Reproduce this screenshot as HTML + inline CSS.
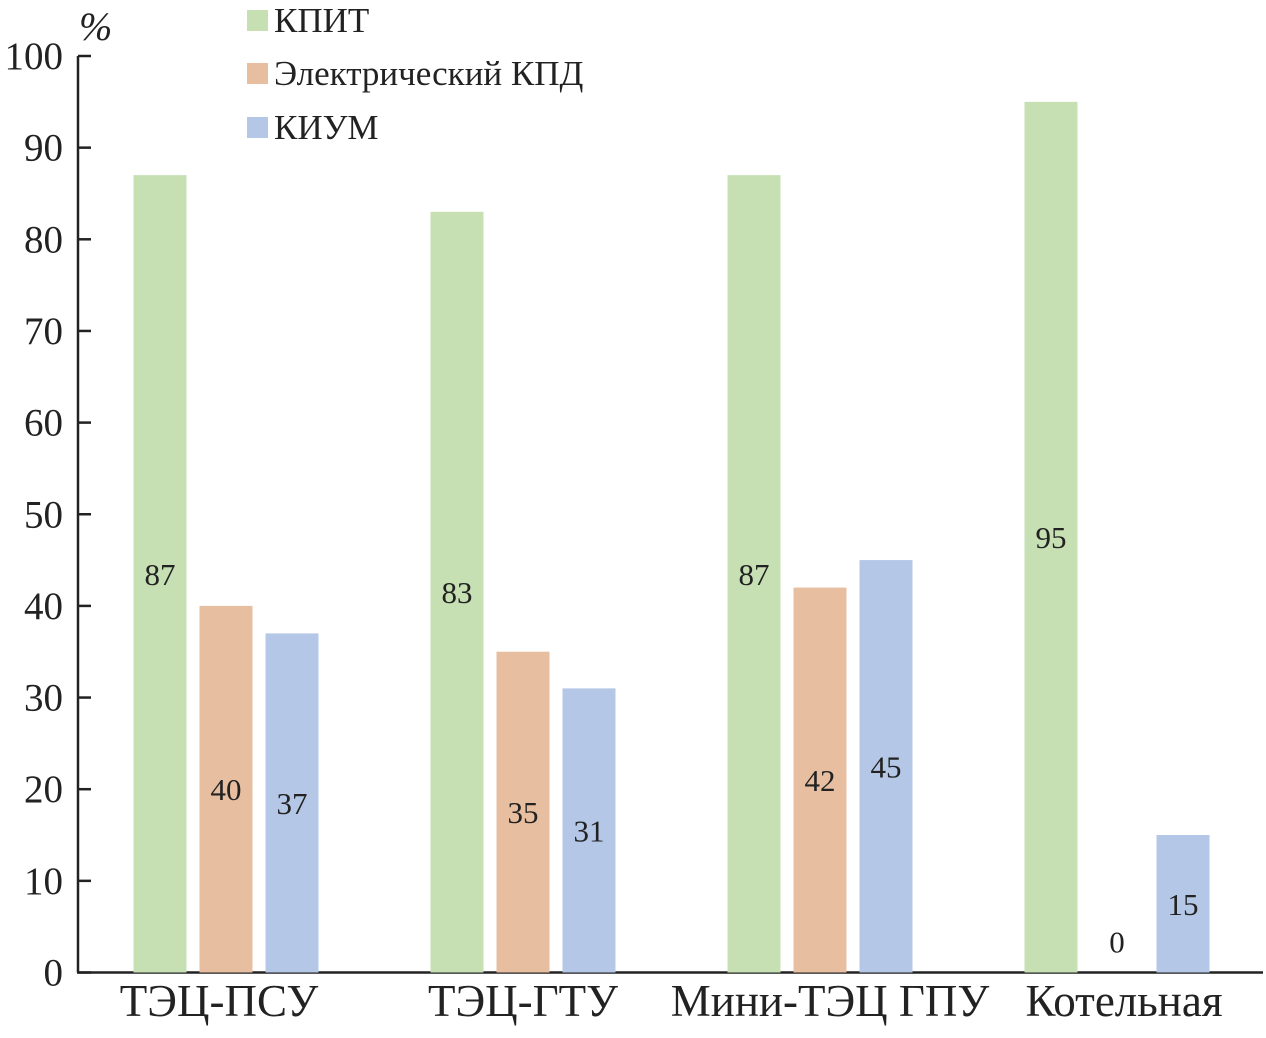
<!DOCTYPE html>
<html><head><meta charset="utf-8">
<style>
html,body{margin:0;padding:0;background:#fff;}
svg text{font-family:"Liberation Serif","Noto Serif CJK SC",serif;fill:#222;}
</style></head>
<body>
<svg id="chart" width="1266" height="1033" viewBox="0 0 1266 1033" xmlns="http://www.w3.org/2000/svg">
  <g id="axes"></g>
  <g id="bars"></g>
  <text x="79" y="40" font-size="40" font-style="italic">%</text>
  <g>
    <rect x="247" y="10" width="21" height="21" fill="#c6e0b4"/>
    <text x="274" y="32" font-size="35">КПИТ</text>
    <rect x="247" y="63" width="21" height="21" fill="#e8bea0"/>
    <text x="274" y="85" font-size="35">Электрический КПД</text>
    <rect x="247" y="117" width="21" height="21" fill="#b4c7e7"/>
    <text x="274" y="139" font-size="35">КИУМ</text>
  </g>
</svg>
<script>
const categories = ["ТЭЦ-ПСУ", "ТЭЦ-ГТУ", "Мини-ТЭЦ ГПУ", "Котельная"];
const kpit = [87, 83, 87, 95];
const electric = [40, 35, 42, 0];
const kium = [37, 31, 45, 15];
const yTicks = [0, 10, 20, 30, 40, 50, 60, 70, 80, 90, 100];

const NS = "http://www.w3.org/2000/svg";
const y0 = 972.5, yTop = 56;
function yScale(v){ return y0 - (v/100)*(y0-yTop); }
const groupStart = 226, groupStep = 297;
function xCenter(i){ return groupStart + i*groupStep; }
const barW = 53, barOff = 66;
const series = [
  {vals: kpit, color: "#c6e0b4", name: "kpit"},
  {vals: electric, color: "#e8bea0", name: "electric"},
  {vals: kium, color: "#b4c7e7", name: "kium"}
];
function mk(tag, attrs, parent){
  const e = document.createElementNS(NS, tag);
  for (const k in attrs) e.setAttribute(k, attrs[k]);
  parent.appendChild(e);
  return e;
}
const axes = document.getElementById("axes");
const bars = document.getElementById("bars");

series.forEach((s, si) => {
  s.vals.forEach((v, i) => {
    const cx = xCenter(i) + (si-1)*barOff;
    const yt = yScale(v);
    if (v > 0) {
      const r = mk("rect", {x: cx - barW/2, y: yt, width: barW, height: y0 - yt, fill: s.color}, bars);
      
      
    }
    let ly = (yt + y0)/2 + 11;
    if (ly > y0 - 20) ly = y0 - 20;
    const t = mk("text", {x: cx, y: ly, "font-size": 31, "text-anchor": "middle"}, bars);
    t.textContent = v;
    
    
  });
});

const yl = mk("line", {x1: 78, y1: yTop, x2: 78, y2: y0, stroke: "#222", "stroke-width": 2.5}, axes);


const xl = mk("line", {x1: 77, y1: y0, x2: 1263, y2: y0, stroke: "#222", "stroke-width": 2.5}, axes);



yTicks.forEach(v => {
  const y = yScale(v);
  const tk = mk("line", {x1: 78, y1: y, x2: 91, y2: y, stroke: "#222", "stroke-width": 2.5}, axes);
  
  
  const t = mk("text", {x: 63, y: y + 13, "font-size": 39, "text-anchor": "end"}, axes);
  t.textContent = v;
  
  
});

const catX = [219, 523, 830, 1124];
categories.forEach((c, i) => {
  const t = mk("text", {x: xCenter(i) + (catX[i] - xCenter(i)), y: 1016, "font-size": 45, "text-anchor": "middle"}, axes);
  t.textContent = c;
  
  
});
</script>
</body></html>
